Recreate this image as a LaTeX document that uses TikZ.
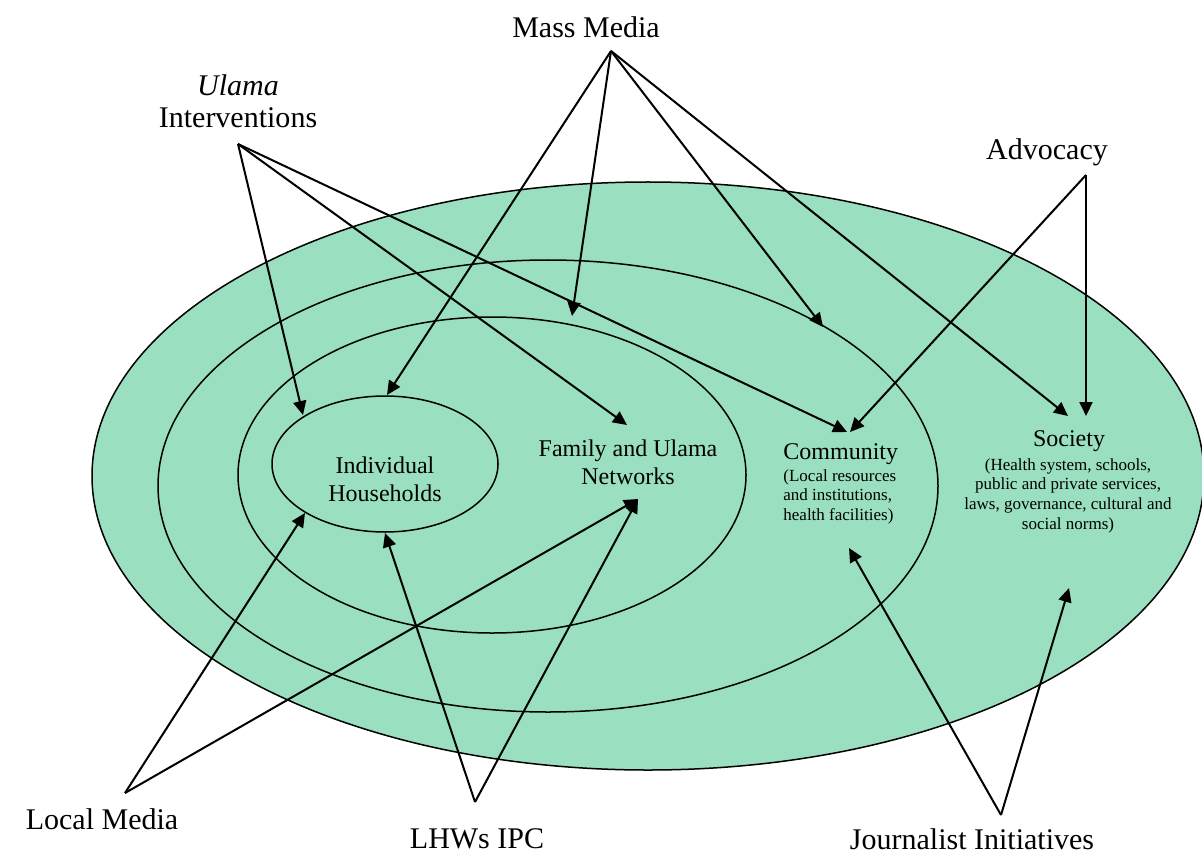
\documentclass[tikz,border=0pt]{standalone}
\usepackage{fontspec}
\setmainfont{Liberation Serif}
\usetikzlibrary{arrows.meta}
\definecolor{ringgreen}{RGB}{153,223,192}
\begin{document}
\begin{tikzpicture}[x=0.5pt,y=-0.5pt,
	ring/.style={draw,fill=ringgreen,line width=0.75pt},
	link/.style={-{Triangle[length=7pt,width=6.5pt]},line width=1pt},
	outer/.style={font=\fontsize{15}{16}\selectfont,align=center,inner sep=0pt},
	level/.style={font=\fontsize{12}{14}\selectfont,align=center,inner sep=0pt},
	detail/.style={font=\fontsize{8.5}{9.8}\selectfont,inner sep=0pt}]
	\useasboundingbox (0,0) rectangle (1202,855);
	\draw[ring] (648,476) ellipse [x radius=278pt,y radius=147pt];
	\draw[ring] (548,486) ellipse [x radius=195pt,y radius=113pt];
	\draw[ring] (492,475) ellipse [x radius=127pt,y radius=79pt];
	\draw[ring] (385,464) ellipse [x radius=56.5pt,y radius=34pt];
	\node[level](HH) at (385,479){Individual\\Households};
	\node[level](FU) at (628,462){Family and Ulama\\Networks};
	\node[level,anchor=west](CO) at (783,454){Community};
	\node[detail,align=left,anchor=north west](COd) at (783,469){(Local resources\\and institutions,\\health facilities)};
	\node[level](SO) at (1069,441){Society};
	\node[detail,align=center,anchor=north](SOd) at (1068,458){(Health system, schools,\\public and private services,\\laws, governance, cultural and\\social norms)};
	\node[outer](UI) at (238,101){\textit{Ulama}\\Interventions};
	\node[outer](MM) at (586,27){Mass Media};
	\node[outer](AD) at (1047,152){Advocacy};
	\node[outer](LM) at (102,819){Local Media};
	\node[outer](LI) at (477,839){LHWs IPC};
	\node[outer](JI) at (972,839){Journalist Initiatives};
	\coordinate(ui) at (238,144);
	\coordinate(mm) at (611,51);
	\coordinate(ad) at (1086,175);
	\coordinate(lm) at (125,793);
	\coordinate(li) at (475,802);
	\coordinate(ji) at (1001,815);
	\coordinate(hhT1) at (303,415);
	\coordinate(hhT2) at (387,395);
	\coordinate(hhB1) at (305,513);
	\coordinate(hhB2) at (385,533);
	\coordinate(fuT) at (627,425);
	\coordinate(fuB) at (638,499);
	\coordinate(mid) at (572,316);
	\coordinate(coT1) at (847,432);
	\coordinate(coT2) at (850,432);
	\coordinate(coT3) at (823,327);
	\coordinate(coB) at (849,548);
	\coordinate(soT1) at (1068,416);
	\coordinate(soT2) at (1086,416);
	\coordinate(soB) at (1069,588);
	\draw[link] (ui) -- (hhT1);
	\draw[link] (ui) -- (fuT);
	\draw[link] (ui) -- (coT1);
	\draw[link] (mm) -- (hhT2);
	\draw[link] (mm) -- (mid);
	\draw[link] (mm) -- (coT3);
	\draw[link] (mm) -- (soT1);
	\draw[link] (ad) -- (coT2);
	\draw[link] (ad) -- (soT2);
	\draw[link] (lm) -- (hhB1);
	\draw[link] (lm) -- (fuB);
	\draw[link] (li) -- (hhB2);
	\draw[link] (li) -- (fuB);
	\draw[link] (ji) -- (coB);
	\draw[link] (ji) -- (soB);
\end{tikzpicture}
\end{document}
